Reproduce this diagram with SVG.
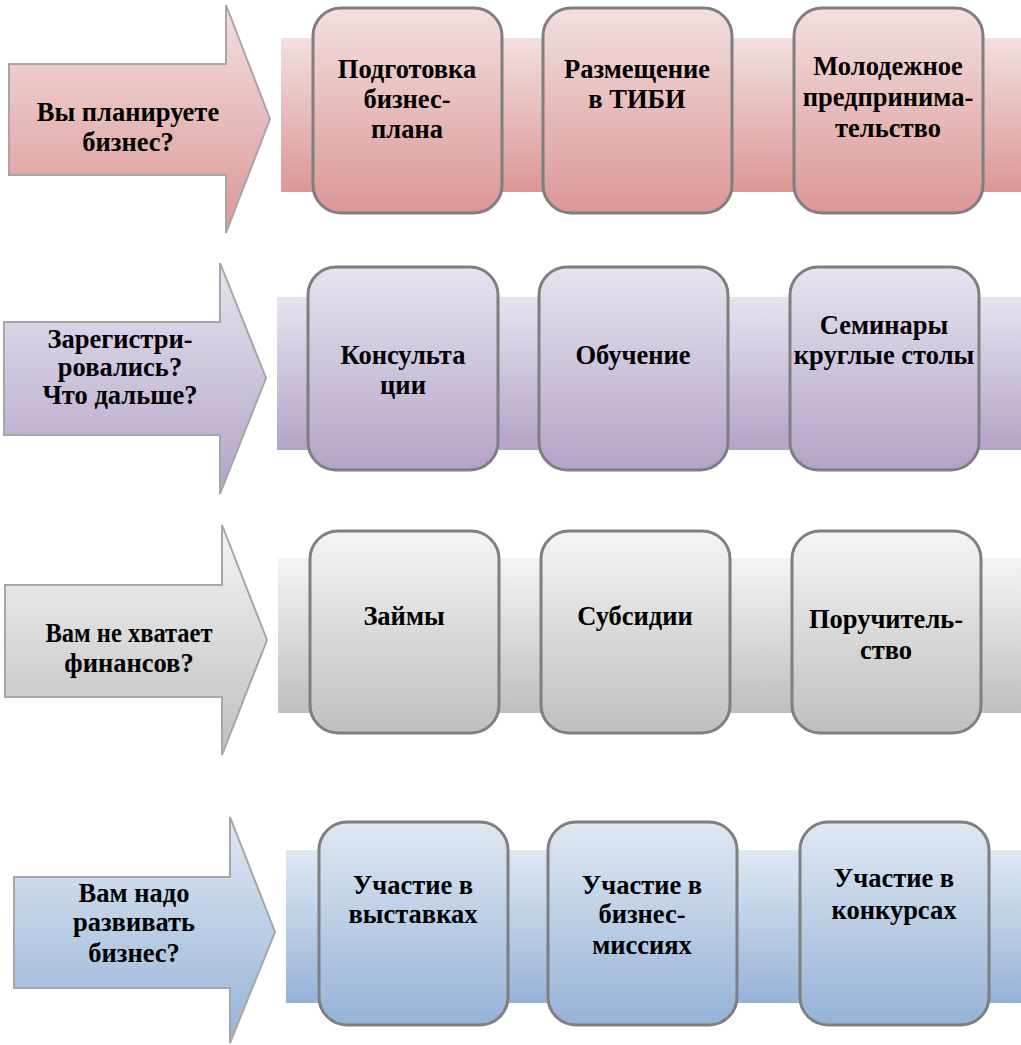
<svg xmlns="http://www.w3.org/2000/svg" width="1021" height="1045" viewBox="0 0 1021 1045">
<style>
  .arrow{stroke:#a6a6a6;stroke-width:2;stroke-linejoin:miter}
  .box{stroke:#7f7f7f;stroke-width:3}
  .t{font-family:"Liberation Serif","Times New Roman",serif;font-weight:700;font-size:26.5px;fill:#000;text-anchor:middle}
</style>
<defs>
  <linearGradient id="gR" x1="0" y1="0" x2="0" y2="1"><stop offset="0" stop-color="#f3dfdf"/><stop offset="1" stop-color="#db9796"/></linearGradient>
  <linearGradient id="gP" x1="0" y1="0" x2="0" y2="1"><stop offset="0" stop-color="#e8e3ef"/><stop offset="1" stop-color="#b3a3c8"/></linearGradient>
  <linearGradient id="gG" x1="0" y1="0" x2="0" y2="1"><stop offset="0" stop-color="#f4f4f4"/><stop offset="1" stop-color="#bfbfbf"/></linearGradient>
  <linearGradient id="gB" x1="0" y1="0" x2="0" y2="1"><stop offset="0" stop-color="#dfe8f3"/><stop offset="1" stop-color="#95b3d7"/></linearGradient>
</defs>

<g id="row1">
  <g id="arrow1">
    <path class="arrow" fill="url(#gR)" d="M9,64 L226,64 L226,5 L270,119 L226,233 L226,175 L9,175 Z"/>
    <text class="t" x="128" y="121">Вы планируете</text>
    <text class="t" x="128" y="151">бизнес?</text>
  </g>
  <rect id="band1" x="281" y="38" width="740" height="154" fill="url(#gR)"/>
  <g id="box1-1">
    <rect class="box" x="313" y="8" width="189" height="205" rx="28" fill="url(#gR)"/>
    <text class="t" x="407" y="78">Подготовка</text>
    <text class="t" x="407" y="108">бизнес-</text>
    <text class="t" x="407" y="138">плана</text>
  </g>
  <g id="box1-2">
    <rect class="box" x="543" y="8" width="189" height="205" rx="28" fill="url(#gR)"/>
    <text class="t" x="637" y="78">Размещение</text>
    <text class="t" x="637" y="108">в ТИБИ</text>
  </g>
  <g id="box1-3">
    <rect class="box" x="794" y="8" width="189" height="205" rx="28" fill="url(#gR)"/>
    <text class="t" x="888" y="75">Молодежное</text>
    <text class="t" x="888" y="106">предпринима-</text>
    <text class="t" x="888" y="137">тельство</text>
  </g>
</g>

<g id="row2">
  <g id="arrow2">
    <path class="arrow" fill="url(#gP)" d="M4,322 L220,322 L220,263 L266,378 L220,494 L220,435 L4,435 Z"/>
    <text class="t" x="120" y="348">Зарегистри-</text>
    <text class="t" x="120" y="376">ровались?</text>
    <text class="t" x="120" y="404">Что дальше?</text>
  </g>
  <rect id="band2" x="277" y="297" width="744" height="153" fill="url(#gP)"/>
  <g id="box2-1">
    <rect class="box" x="308" y="267" width="190" height="203" rx="28" fill="url(#gP)"/>
    <text class="t" x="403" y="364">Консульта</text>
    <text class="t" x="403" y="394">ции</text>
  </g>
  <g id="box2-2">
    <rect class="box" x="539" y="267" width="189" height="203" rx="28" fill="url(#gP)"/>
    <text class="t" x="633" y="364">Обучение</text>
  </g>
  <g id="box2-3">
    <rect class="box" x="790" y="267" width="189" height="203" rx="28" fill="url(#gP)"/>
    <text class="t" x="884" y="334">Семинары</text>
    <text class="t" x="884" y="364">круглые столы</text>
  </g>
</g>

<g id="row3">
  <g id="arrow3">
    <path class="arrow" fill="url(#gG)" d="M5,585 L222,585 L222,525 L267,640 L222,755 L222,697 L5,697 Z"/>
    <text class="t" x="129" y="642" textLength="167" lengthAdjust="spacingAndGlyphs">Вам не хватает</text>
    <text class="t" x="129" y="672">финансов?</text>
  </g>
  <rect id="band3" x="278" y="558" width="743" height="155" fill="url(#gG)"/>
  <g id="box3-1">
    <rect class="box" x="310" y="531" width="189" height="202" rx="28" fill="url(#gG)"/>
    <text class="t" x="404" y="625">Займы</text>
  </g>
  <g id="box3-2">
    <rect class="box" x="541" y="531" width="189" height="202" rx="28" fill="url(#gG)"/>
    <text class="t" x="635" y="625">Субсидии</text>
  </g>
  <g id="box3-3">
    <rect class="box" x="792" y="531" width="189" height="202" rx="28" fill="url(#gG)"/>
    <text class="t" x="886" y="628">Поручитель-</text>
    <text class="t" x="886" y="659">ство</text>
  </g>
</g>

<g id="row4">
  <g id="arrow4">
    <path class="arrow" fill="url(#gB)" d="M14,877 L230,877 L230,817 L275,932 L230,1043 L230,988 L14,988 Z"/>
    <text class="t" x="134" y="902">Вам надо</text>
    <text class="t" x="134" y="931">развивать</text>
    <text class="t" x="134" y="962">бизнес?</text>
  </g>
  <rect id="band4" x="286" y="850" width="735" height="153" fill="url(#gB)"/>
  <g id="box4-1">
    <rect class="box" x="319" y="822" width="189" height="203" rx="28" fill="url(#gB)"/>
    <text class="t" x="413" y="894">Участие в</text>
    <text class="t" x="413" y="923">выставках</text>
  </g>
  <g id="box4-2">
    <rect class="box" x="548" y="822" width="189" height="203" rx="28" fill="url(#gB)"/>
    <text class="t" x="642" y="894">Участие в</text>
    <text class="t" x="642" y="923">бизнес-</text>
    <text class="t" x="642" y="954">миссиях</text>
  </g>
  <g id="box4-3">
    <rect class="box" x="800" y="822" width="189" height="203" rx="28" fill="url(#gB)"/>
    <text class="t" x="894" y="887">Участие в</text>
    <text class="t" x="894" y="919">конкурсах</text>
  </g>
</g>
</svg>
